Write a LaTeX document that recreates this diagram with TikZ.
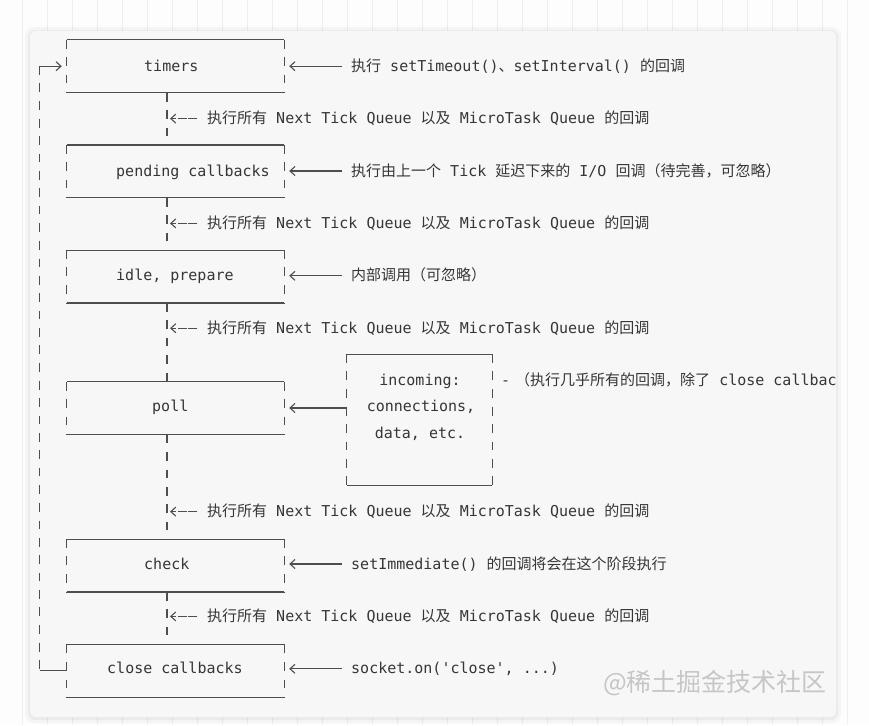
\documentclass[tikz,border=0pt]{standalone}
\usepackage{fontspec}
\setmonofont{DejaVu Sans Mono}
\newfontfamily\zhfont{Noto Sans CJK SC}
\newcommand{\zh}[1]{{\zhfont #1}}
\newcommand{\ntq}{\zh{执行所有} Next Tick Queue \zh{以及} MicroTask Queue \zh{的回调}}
\usepackage{tikz}
\usetikzlibrary{positioning, arrows.meta}

\definecolor{ink}{HTML}{363636}
\definecolor{wire}{HTML}{4E4E4E}
\definecolor{card}{HTML}{F7F7F7}
\definecolor{page}{HTML}{FDFDFD}
\definecolor{gridline}{HTML}{EEEEEE}
\definecolor{mark}{HTML}{C6C6C6}

\begin{document}
\begin{tikzpicture}[
    x=1pt, y=-1pt,
    >={Straight Barb[length=5pt, width=9pt]},
    phase/.style={
        minimum width=217pt,
        minimum height=52.4pt,
        inner sep=0pt,
    },
    wireline/.style={
        draw=wire,
        line width=1.1pt,
    },
    asciibar/.style={
        wireline,
        dash pattern=on 9pt off 8.2pt on 9pt,
    },
    tt/.style={
        font=\ttfamily\fontsize{15}{18}\selectfont,
        text=ink,
        inner sep=0pt,
        text height=11pt,
        text depth=1pt,
        anchor=west,
    },
    feed/.style={
        ->, wireline,
        shorten <=9pt, shorten >=5pt,
    },
    nextarrow/.style={
        ->, wireline,
        dash pattern=on 9pt off 1.5pt,
        shorten <=10pt, shorten >=3pt,
    },
]
\useasboundingbox (0,0) rectangle (869,725);

% --- Page and card ---
\fill[page] (0,0) rectangle (869,725);
\foreach \x in {22,47,...,847} {
    \draw[gridline, line width=0.6pt] (\x,0) -- (\x,725);
}
\fill[black, opacity=0.03, rounded corners=9pt] (25,27) rectangle (841,723);
\fill[black, opacity=0.04, rounded corners=7pt] (28,30) rectangle (838,720);
\fill[card, rounded corners=6pt] (30,31) rectangle (836,717);

% --- Phases of the loop ---
\node[phase] (timers) at (175.5, 66.2) {};
\node[phase, below=52.4pt of timers] (pending) {};
\node[phase, below=52.4pt of pending] (idle) {};
\node[phase, below=78.6pt of idle] (poll) {};
\node[phase, below=104.8pt of poll] (check) {};
\node[phase, below=52.4pt of check] (close) {};
\node[minimum width=145pt, minimum height=131pt, inner sep=0pt] (incoming) at (419.5, 419.9) {};

\node[tt] (timers-text)  at (144, 66.2)  {timers};
\node[tt] (pending-text) at (116, 171)   {pending callbacks};
\node[tt] (idle-text)    at (116, 275.8) {idle, prepare};
\node[tt] (poll-text)    at (152, 406.8) {poll};
\node[tt] (check-text)   at (144, 564)   {check};
\node[tt] (close-text)   at (107, 668.8) {close callbacks};

\node[tt, anchor=center] (incoming-a) at (420, 380.6) {incoming:};
\node[tt, anchor=center] (incoming-b) at (421, 406.8) {connections,};
\node[tt, anchor=center] (incoming-c) at (420, 433)   {data, etc.};

% ascii style frames: solid top and bottom, broken sides
\foreach \b in {timers, pending, idle, poll, check, close, incoming} {
    \draw[wireline] (\b.north west) -- (\b.north east);
    \draw[wireline] (\b.south west) -- (\b.south east);
    \draw[asciibar] (\b.north west) -- (\b.south west);
    \draw[asciibar] (\b.north east) -- (\b.south east);
}

% --- Spine between phases ---
\coordinate (spine) at (167, 0);
\foreach \a/\b in {timers/pending, pending/idle, idle/poll, poll/check, check/close} {
    \draw[asciibar] (\a.south -| spine) -- (\b.north -| spine);
}

\foreach \r [count=\i] in {118.6, 223.4, 328.2, 511.6, 616.4} {
    \node[tt] (ntq-\i) at (207, \r) {\ntq};
    \draw[nextarrow] (ntq-\i.west) -- (ntq-\i.west -| spine);
}

% --- Loop back from close to timers ---
\coordinate (loop) at (39.5, 0);
\draw[asciibar] (loop |- timers.west) -- (loop |- close.west);
\draw[->, wireline, shorten >=5pt] (loop |- timers.west) -- (timers.west);
\draw[wireline] (loop |- close.west) -- (close.west);

% --- Notes on the right ---
\node[tt] (timers-note)  at (351, 66.2)  {\zh{执行} setTimeout()\zh{、}setInterval() \zh{的回调}};
\node[tt] (pending-note) at (351, 171)   {\zh{执行由上一个} Tick \zh{延迟下来的} I/O \zh{回调（待完善，可忽略）}};
\node[tt] (idle-note)    at (351, 275.8) {\zh{内部调用（可忽略）}};
\node[tt] (check-note)   at (351, 564)   {setImmediate() \zh{的回调将会在这个阶段执行}};
\node[tt] (close-note)   at (351, 668.8) {socket.on('close', ...)};

\foreach \b in {timers, pending, idle, check, close} {
    \draw[feed] (\b-note.west) -- (\b-note.west -| \b.east);
}

\draw[->, wireline, shorten >=5pt] (incoming.west |- poll.east) -- (poll.east);

\begin{scope}
    \clip[rounded corners=6pt] (30,31) rectangle (836,717);
    \node[tt] (incoming-note) at (501, 380.6) {-\hspace{5pt}\zh{（执行几乎所有的回调，除了} close callbacks};
\end{scope}

% watermark
\node[font=\zhfont\fontsize{25}{25}\selectfont, text=mark, inner sep=0pt] (watermark) at (715, 683) {@稀土掘金技术社区};

\end{tikzpicture}
\end{document}
